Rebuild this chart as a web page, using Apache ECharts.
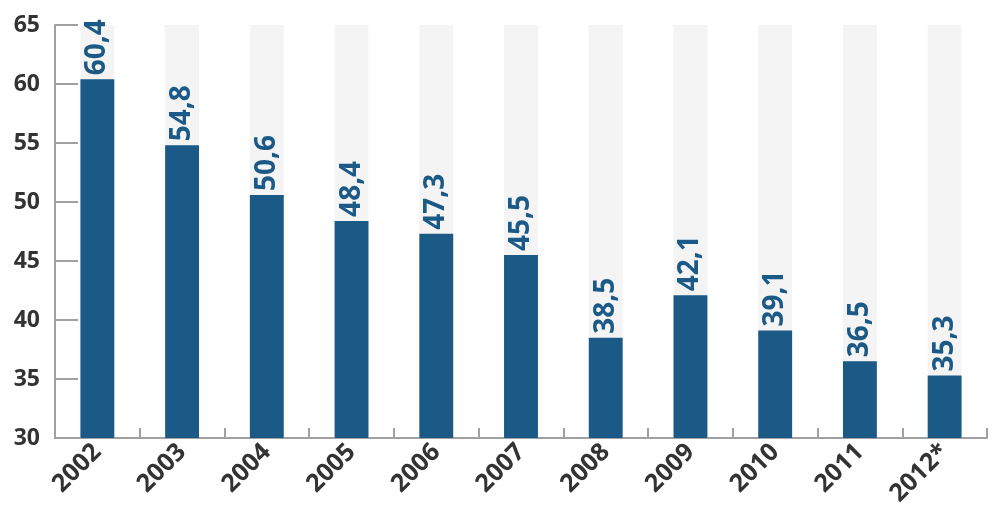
<!DOCTYPE html>
<html><head><meta charset="utf-8">
<script src="https://cdn.jsdelivr.net/npm/echarts@6/dist/echarts.min.js"></script>
<style>html,body{margin:0;padding:0;background:#fff}#c{width:1000px;height:518px}</style>
</head><body><div id="c"></div>
<script>
const categories = ['2002','2003','2004','2005','2006','2007','2008','2009','2010','2011','2012*'];
const values = [60.4, 54.8, 50.6, 48.4, 47.3, 45.5, 38.5, 42.1, 39.1, 36.5, 35.3];
const yTicks = [30, 35, 40, 45, 50, 55, 60, 65];

const chart = echarts.init(document.getElementById('c'), null, {renderer:'canvas'});
chart.setOption({
  animation: false,
  grid: {left: 55, right: 13, top: 25, bottom: 80, containLabel: false},
  xAxis: {
    type: 'category', data: categories,
    axisLine: {show: true, lineStyle: {color: '#a0a0a0', width: 2}},
    axisTick: {show: true, inside: true, length: 10, lineStyle: {color: '#a0a0a0', width: 2}},
    axisLabel: {rotate: 45, margin: 10, fontFamily: 'Open Sans', fontWeight: 'bold', fontSize: 25, color: '#333'}
  },
  yAxis: {
    type: 'value', min: yTicks[0], max: yTicks[yTicks.length-1], interval: 5,
    axisLine: {show: true, lineStyle: {color: '#a0a0a0', width: 2}},
    axisTick: {show: true, inside: true, length: 23, lineStyle: {color: '#a0a0a0', width: 2}},
    splitLine: {show: false},
    axisLabel: {margin: 15, fontFamily: 'Open Sans', fontWeight: 'bold', fontSize: 23, color: '#333'}
  },
  series: [{
    type: 'bar', data: values, barWidth: '40%',
    itemStyle: {color: '#1b5986'},
    showBackground: true,
    backgroundStyle: {color: '#f4f4f4'},
    label: {
      show: true, position: 'top', rotate: 90, distance: 4, align: 'left', verticalAlign: 'middle',
      fontFamily: 'Open Sans', fontWeight: 'bold', fontSize: 28, color: '#1b5986',
      formatter: p => String(p.value).replace('.', ',')
    }
  }]
});
</script></body></html>
